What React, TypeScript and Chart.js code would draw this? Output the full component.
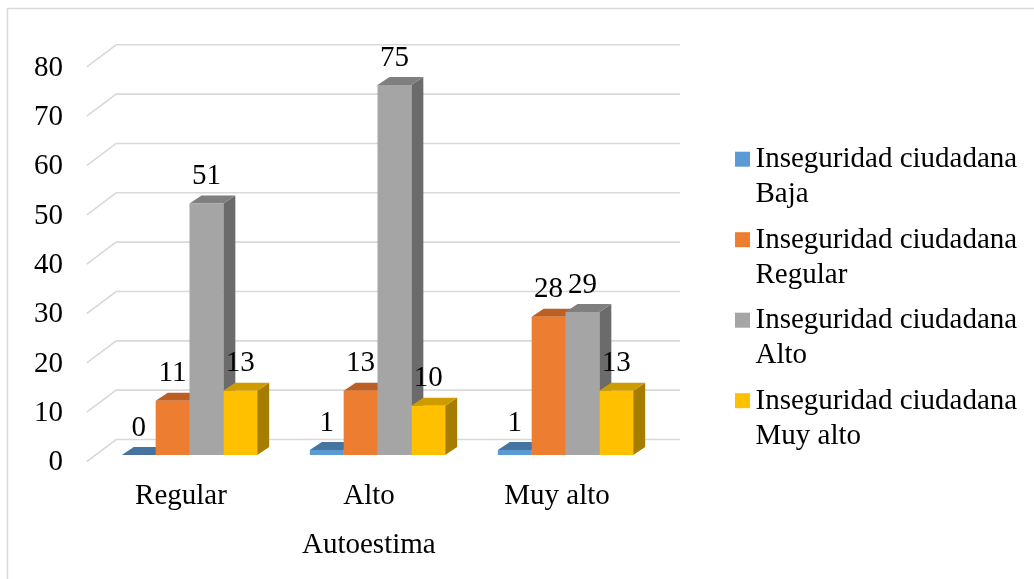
import React, { useEffect, useRef } from "react";
import { Chart, registerables } from "chart.js";

Chart.register(...registerables);

// ---------- data ----------
const categories = ["Regular", "Alto", "Muy alto"];
const seriesLines = [
  ["Inseguridad ciudadana", "Baja"],
  ["Inseguridad ciudadana", "Regular"],
  ["Inseguridad ciudadana", "Alto"],
  ["Inseguridad ciudadana", "Muy alto"],
];
const bajaValues = [0, 1, 1];
const regularValues = [11, 13, 28];
const altoValues = [51, 75, 29];
const muyAltoValues = [13, 10, 13];
const axisTitle = "Autoestima";
const yMin = 0;
const yMax = 80;
const yStep = 10;

// ---------- styles ----------
const FONT = '"Liberation Serif", "Times New Roman", serif';
const FONT_SIZE = 29;
const frontColors = ["#5b9bd5", "#ed7d31", "#a5a5a5", "#ffc000"];
const topColors = ["#44749f", "#bb5f25", "#7f7f7f", "#cf9c00"];
const sideColors = ["#3a6690", "#a9541f", "#6b6b6b", "#a57d00"];
const GRID_COLOR = "#d9d9d9";
const BAR_DX = 12;
const BAR_DY = 8;
const FRONT_DY = 6.5;
const BACK_DY = -15.5;
const SLOPE = 4 / 3;

const threeD = {
  id: "threeD",
  beforeDraw(chart: any) {
    const ctx = chart.ctx;
    ctx.save();
    ctx.fillStyle = "#ffffff";
    ctx.fillRect(0, 0, chart.width, chart.height);
    ctx.strokeStyle = GRID_COLOR;
    ctx.lineWidth = 1.5;
    ctx.strokeRect(7.5, 8.5, chart.width + 40, chart.height + 40);
    ctx.restore();
  },
  beforeDatasetsDraw(chart: any) {
    const { ctx, chartArea } = chart;
    const y = chart.scales.y;
    ctx.save();
    ctx.strokeStyle = GRID_COLOR;
    ctx.lineWidth = 1.6;
    y.ticks.forEach((t: any) => {
      const py = y.getPixelForValue(t.value);
      const fx = chartArea.left - FRONT_DY * SLOPE;
      const fy = py + FRONT_DY;
      const bx = chartArea.left - BACK_DY * SLOPE;
      const by = py + BACK_DY;
      const ex = chartArea.right - BACK_DY * SLOPE;
      ctx.beginPath();
      ctx.moveTo(fx, fy);
      ctx.lineTo(bx, by);
      ctx.lineTo(ex, by);
      ctx.stroke();
    });
    const items: any[] = [];
    chart.data.datasets.forEach((_ds: any, i: number) => {
      chart.getDatasetMeta(i).data.forEach((el: any) => items.push({ el, i }));
    });
    items.sort((a, b) => a.el.x - b.el.x);
    for (const { el, i } of items) {
      const p = el.getProps(["x", "y", "base", "width"], true);
      const l = p.x - p.width / 2;
      const r = p.x + p.width / 2;
      ctx.fillStyle = sideColors[i];
      ctx.beginPath();
      ctx.moveTo(r, p.y);
      ctx.lineTo(r + BAR_DX, p.y - BAR_DY);
      ctx.lineTo(r + BAR_DX, p.base - BAR_DY);
      ctx.lineTo(r, p.base);
      ctx.closePath();
      ctx.fill();
      ctx.fillStyle = topColors[i];
      ctx.beginPath();
      ctx.moveTo(l, p.y);
      ctx.lineTo(r, p.y);
      ctx.lineTo(r + BAR_DX, p.y - BAR_DY);
      ctx.lineTo(l + BAR_DX, p.y - BAR_DY);
      ctx.closePath();
      ctx.fill();
    }
    ctx.restore();
  },
  afterDatasetsDraw(chart: any) {
    const ctx = chart.ctx;
    ctx.save();
    ctx.font = `${FONT_SIZE}px ${FONT}`;
    ctx.fillStyle = "#000000";
    ctx.textAlign = "center";
    ctx.textBaseline = "middle";
    chart.data.datasets.forEach((ds: any, i: number) => {
      chart.getDatasetMeta(i).data.forEach((el: any, j: number) => {
        const p = el.getProps(["x", "y"], true);
        ctx.fillText(String(ds.data[j]), p.x, p.y - 27);
      });
    });
    ctx.restore();
  },
  afterDraw(chart: any) {
    const { ctx, chartArea } = chart;
    ctx.save();
    ctx.font = `${FONT_SIZE}px ${FONT}`;
    ctx.fillStyle = "#000000";
    ctx.textBaseline = "middle";
    // axis title, centred on the front edge of the floor
    ctx.textAlign = "center";
    const cx = (chartArea.left + chartArea.right) / 2 - FRONT_DY * SLOPE;
    ctx.fillText(axisTitle, cx, 545);
    // legend
    ctx.textAlign = "left";
    const legX = 735;
    const legY = 151.7;
    const box = 15;
    const entry = 80.5;
    const line = FONT_SIZE * 1.2;
    chart.data.datasets.forEach((ds: any, i: number) => {
      const top = legY + i * entry;
      ctx.fillStyle = ds.backgroundColor;
      ctx.fillRect(legX, top, box, box);
      ctx.fillStyle = "#000000";
      seriesLines[i].forEach((txt, k) => {
        ctx.fillText(txt, legX + box + 5.5, top + 8 + k * line);
      });
    });
    ctx.restore();
  },
};

export default function App() {
  const ref = useRef<HTMLCanvasElement>(null);
  useEffect(() => {
    const values = [bajaValues, regularValues, altoValues, muyAltoValues];
    const chart = new Chart(ref.current as HTMLCanvasElement, {
      type: "bar",
      data: {
        labels: categories,
        datasets: values.map((v, i) => ({
          label: seriesLines[i].join(" "),
          data: v,
          backgroundColor: frontColors[i],
          borderWidth: 0,
          barPercentage: 1,
          categoryPercentage: 0.72,
        })),
      },
      options: {
        responsive: false,
        animation: false,
        events: [],
        layout: { padding: { top: 60.3, right: 374.5, bottom: 0, left: 0 } },
        plugins: {
          legend: { display: false },
          tooltip: { enabled: false },
        },
        scales: {
          x: {
            grid: { display: false, drawTicks: false },
            border: { display: false },
            ticks: {
              font: { family: FONT, size: FONT_SIZE },
              color: "#000000",
              padding: 24,
              labelOffset: -8.5,
              maxRotation: 0,
              autoSkip: false,
            },
            afterFit: (s: any) => {
              s.height = 124;
            },
          },
          y: {
            min: yMin,
            max: yMax,
            grid: { display: false, drawTicks: false },
            border: { display: false },
            ticks: {
              stepSize: yStep,
              font: { family: FONT, size: FONT_SIZE },
              color: "#000000",
              padding: 32.5,
              labelOffset: 7.7,
            },
            afterFit: (s: any) => {
              s.width = 95.5;
            },
          },
        },
      },
      plugins: [threeD],
    } as any);
    return () => chart.destroy();
  }, []);
  return (
    <div style={{ position: "absolute", left: 0, top: 0, width: 1034, height: 579, background: "#fff" }}>
      <canvas ref={ref} width={1034} height={579} style={{ display: "block" }} />
    </div>
  );
}
